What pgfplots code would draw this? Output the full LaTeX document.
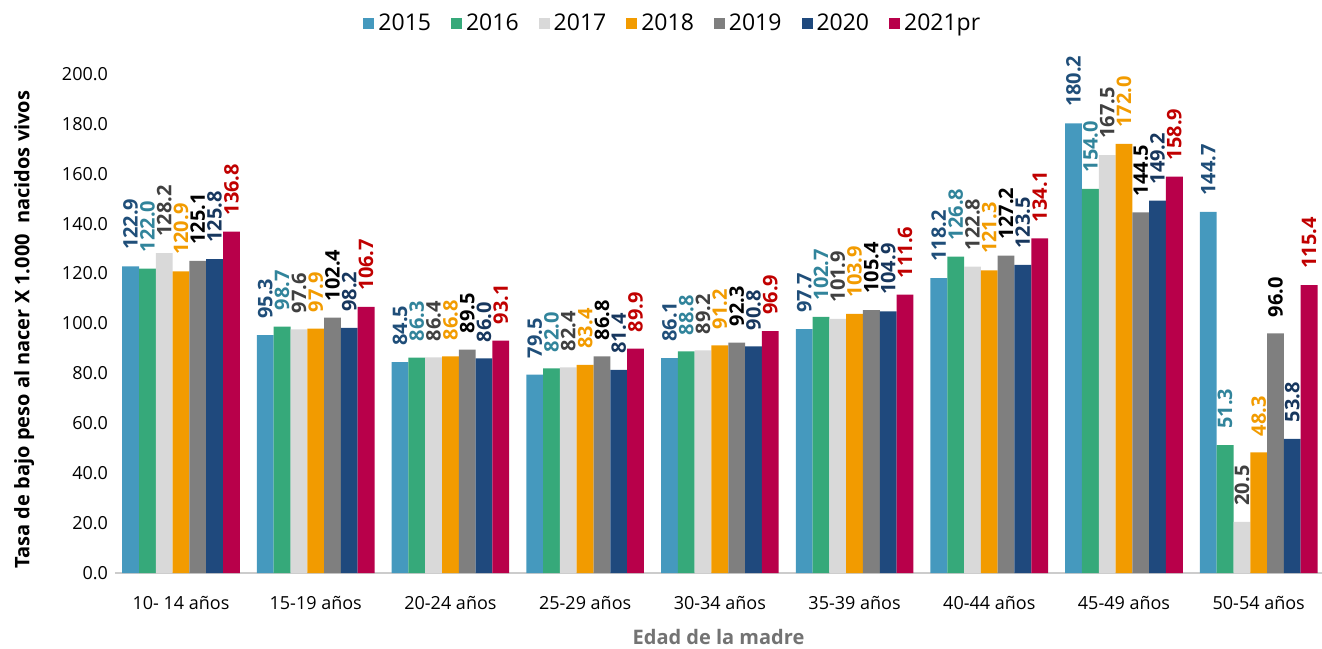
\documentclass[border=0pt]{standalone}
\usepackage{pgfplots}
\pgfplotsset{compat=1.18}
\usepackage{fontspec}
\setmainfont{Open Sans}
\definecolor{b15}{HTML}{4599BE}
\definecolor{b16}{HTML}{36A97A}
\definecolor{b17}{HTML}{D9D9D9}
\definecolor{b18}{HTML}{F29B00}
\definecolor{b19}{HTML}{7F7F7F}
\definecolor{b20}{HTML}{1F497D}
\definecolor{b21}{HTML}{B8004A}
\definecolor{l15}{HTML}{1F4E79}
\definecolor{l16}{HTML}{31849B}
\definecolor{l17}{HTML}{404040}
\definecolor{l18}{HTML}{F29B00}
\definecolor{l19}{HTML}{000000}
\definecolor{l20}{HTML}{17375E}
\definecolor{l21}{HTML}{C00000}
\begin{document}
\begin{tikzpicture}
\begin{axis}[
  scale only axis,
  width=603.5pt, height=249.5pt,
  ybar=0pt, bar width=8.4pt,
  xmin=-0.49, xmax=8.47,
  ymin=0, ymax=200,
  ytick={0,20,...,200},
  xtick={0,...,8},
  xticklabels={10- 14 años,15-19 años,20-24 años,25-29 años,30-34 años,35-39 años,40-44 años,45-49 años,50-54 años},
  /pgf/number format/assume math mode=true,
  /pgf/number format/fixed,
  /pgf/number format/fixed zerofill,
  /pgf/number format/precision=1,
  tick label style={font=\fontsize{9}{10}\selectfont, text=black},
  xticklabel style={yshift=-8pt},
  major tick length=0pt,
  axis x line*=bottom,
  axis y line*=left,
  x axis line style={draw=black!20, line width=0.8pt},
  y axis line style={draw=none},
  xlabel={\textbf{Edad de la madre}},
  xlabel style={font=\fontsize{10}{11}\selectfont, text=black!55, yshift=-3pt},
  ylabel={\textbf{Tasa de bajo peso al nacer X 1.000\ \ nacidos vivos}},
  ylabel style={font=\fontsize{10}{11}\selectfont, yshift=7pt, xshift=-3pt},
  nodes near coords,
  every node near coord/.append style={rotate=90, anchor=west, inner xsep=8pt, inner ysep=0pt, font=\bfseries\fontsize{10}{11}\selectfont},
  legend style={at={(0.463,1.0)}, anchor=south, yshift=16pt, draw=none, legend columns=-1,
    font=\fontsize{11.5}{13}\selectfont, /tikz/every even column/.append style={column sep=8pt}},
  legend image code/.code={\fill[#1] (0pt,-2.75pt) rectangle (5.5pt,2.75pt);},
  clip=false,
]
\addplot[fill=b15, draw=none, every node near coord/.append style={text=l15}] coordinates {(0,122.9)(1,95.3)(2,84.5)(3,79.5)(4,86.1)(5,97.7)(6,118.2)(7,180.2)(8,144.7)};
\addplot[fill=b16, draw=none, every node near coord/.append style={text=l16}] coordinates {(0,122.0)(1,98.7)(2,86.3)(3,82.0)(4,88.8)(5,102.7)(6,126.8)(7,154.0)(8,51.3)};
\addplot[fill=b17, draw=none, every node near coord/.append style={text=l17}] coordinates {(0,128.2)(1,97.6)(2,86.4)(3,82.4)(4,89.2)(5,101.9)(6,122.8)(7,167.5)(8,20.5)};
\addplot[fill=b18, draw=none, every node near coord/.append style={text=l18}] coordinates {(0,120.9)(1,97.9)(2,86.8)(3,83.4)(4,91.2)(5,103.9)(6,121.3)(7,172.0)(8,48.3)};
\addplot[fill=b19, draw=none, every node near coord/.append style={text=l19}] coordinates {(0,125.1)(1,102.4)(2,89.5)(3,86.8)(4,92.3)(5,105.4)(6,127.2)(7,144.5)(8,96.0)};
\addplot[fill=b20, draw=none, every node near coord/.append style={text=l20}] coordinates {(0,125.8)(1,98.2)(2,86.0)(3,81.4)(4,90.8)(5,104.9)(6,123.5)(7,149.2)(8,53.8)};
\addplot[fill=b21, draw=none, every node near coord/.append style={text=l21}] coordinates {(0,136.8)(1,106.7)(2,93.1)(3,89.9)(4,96.9)(5,111.6)(6,134.1)(7,158.9)(8,115.4)};
\legend{2015,2016,2017,2018,2019,2020,2021pr}
\coordinate (bl) at (rel axis cs:0,0);
\end{axis}
\pgfresetboundingbox
\path ([shift={(-57.5pt,-37.5pt)}]bl) rectangle ([shift={(603.5pt,286.5pt)}]bl);
\end{tikzpicture}
\end{document}
